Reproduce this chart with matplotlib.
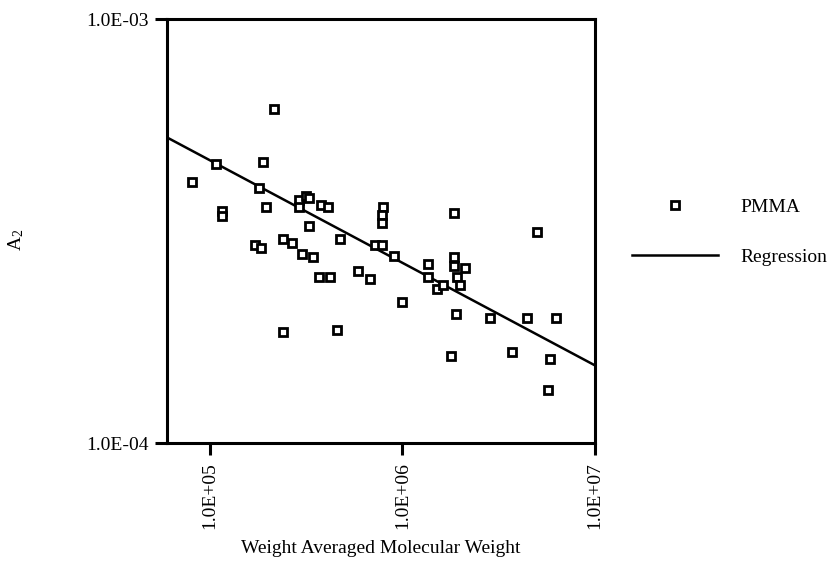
import numpy as np
from matplotlib import pyplot as plt
from matplotlib.ticker import FixedLocator, FuncFormatter, NullLocator

plt.rcParams['font.family'] = ['Liberation Serif', 'DejaVu Serif']

# Weight averaged molecular weight and second virial coefficient (PMMA)
mw = [8.13e4, 1.08e5, 1.16e5, 1.16e5, 2.16e5, 1.90e5, 1.81e5, 1.95e5, 1.71e5, 1.84e5,
      2.39e5, 2.39e5, 2.67e5, 2.89e5, 2.91e5, 3.15e5, 3.27e5, 3.26e5, 3.01e5, 3.42e5,
      3.79e5, 4.12e5, 3.70e5, 4.20e5, 4.55e5, 4.77e5, 5.87e5, 6.81e5, 7.95e5, 7.80e5,
      7.80e5, 7.23e5, 7.86e5, 9.07e5, 9.98e5, 1.36e6, 1.36e6, 1.51e6, 1.63e6, 1.85e6,
      1.85e6, 1.85e6, 2.11e6, 1.91e6, 1.99e6, 1.90e6, 1.79e6, 2.85e6, 3.71e6, 4.42e6,
      5.02e6, 6.30e6, 5.84e6, 5.70e6]
a2 = [4.13e-4, 4.54e-4, 3.52e-4, 3.43e-4, 6.13e-4, 4.59e-4, 4.00e-4, 3.60e-4, 2.93e-4, 2.89e-4,
      1.83e-4, 3.03e-4, 2.97e-4, 3.74e-4, 3.60e-4, 3.82e-4, 3.78e-4, 3.25e-4, 2.79e-4, 2.74e-4,
      3.64e-4, 3.60e-4, 2.46e-4, 2.46e-4, 1.85e-4, 3.03e-4, 2.55e-4, 2.44e-4, 3.61e-4, 3.45e-4,
      3.30e-4, 2.93e-4, 2.93e-4, 2.76e-4, 2.15e-4, 2.64e-4, 2.46e-4, 2.31e-4, 2.36e-4, 3.48e-4,
      2.74e-4, 2.61e-4, 2.59e-4, 2.46e-4, 2.36e-4, 2.01e-4, 1.60e-4, 1.97e-4, 1.64e-4, 1.97e-4,
      3.14e-4, 1.97e-4, 1.58e-4, 1.33e-4]

# log10(A2) = intercept + slope * log10(Mw)
reg_intercept = -2.123
reg_slope = -0.242

x_ticks = [1e5, 1e6, 1e7]
y_ticks = [1e-4, 1e-3]
x_range = (6e4, 1e7)
y_range = (1e-4, 1e-3)

fig = plt.figure(figsize=(8.33, 5.76), dpi=100)
ax = fig.add_axes([0.2005, 0.2309, 0.5138, 0.7361])

ax.plot(mw, a2, linestyle='none', marker='s', ms=6.3, mew=2.0,
        mfc='white', mec='black', label='PMMA', zorder=3)

reg_x = np.array(x_range)
reg_y = 10 ** (reg_intercept + reg_slope * np.log10(reg_x))
ax.plot(reg_x, reg_y, color='black', lw=1.8, label='Regression', zorder=2)

ax.set_xscale('log')
ax.set_yscale('log')
ax.set_xlim(*x_range)
ax.set_ylim(*y_range)

sci = FuncFormatter(lambda v, pos: f'{v:.1E}')
ax.xaxis.set_major_locator(FixedLocator(x_ticks))
ax.yaxis.set_major_locator(FixedLocator(y_ticks))
ax.xaxis.set_minor_locator(NullLocator())
ax.yaxis.set_minor_locator(NullLocator())
ax.xaxis.set_major_formatter(sci)
ax.yaxis.set_major_formatter(sci)

for s in ax.spines.values():
    s.set_linewidth(2.2)
ax.tick_params(axis='both', direction='out', length=8.5, width=2.2, labelsize=14, pad=5)
ax.tick_params(axis='x', labelrotation=90)

ax.set_xlabel('Weight Averaged Molecular Weight', fontsize=14)
ax.xaxis.set_label_coords(0.5, -0.228)
ax.set_ylabel(r'$\mathregular{A_2}$', fontsize=14)
ax.yaxis.set_label_coords(-0.33, 0.48)

fig.legend(loc='upper left', bbox_to_anchor=(0.7587, 0.656), frameon=False,
           fontsize=14, handlelength=4.4, handletextpad=1.2, labelspacing=1.66,
           borderpad=0, borderaxespad=0)

fig.savefig('out.png', dpi=100)
